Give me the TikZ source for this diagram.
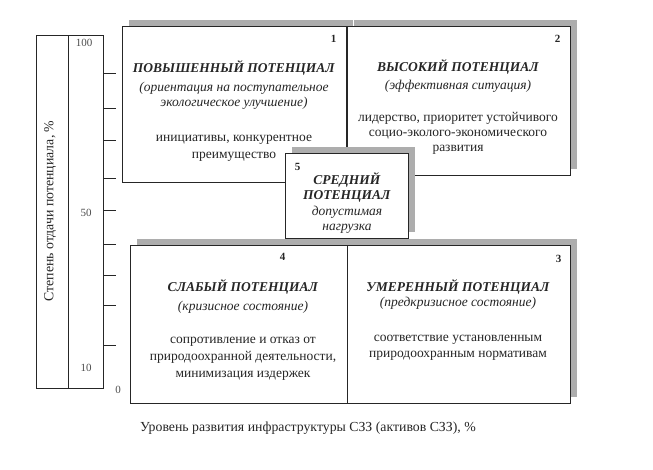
\documentclass[tikz,border=0pt]{standalone}
\usepackage{fontspec}
\setmainfont{Liberation Serif}
\usetikzlibrary{positioning,shadows}

\definecolor{shadowgray}{gray}{0.68}
\definecolor{inkgray}{gray}{0.15}

\tikzstyle{potbox} = [draw=inkgray, fill=white, line width=0.9pt, rectangle, inner sep=0pt, drop shadow={shadow xshift=7pt, shadow yshift=6pt, fill=shadowgray, opacity=1}]
\tikzstyle{headtext} = [align=center, inner sep=0pt, text=inkgray, font=\fontsize{13.5}{15.5}\selectfont]
\tikzstyle{bodytext} = [align=center, inner sep=0pt, text=inkgray, font=\fontsize{13.5}{17}\selectfont]
\tikzstyle{numlabel} = [inner sep=0pt, text=inkgray, font=\fontsize{11}{13}\selectfont\bfseries]
\tikzstyle{scalelabel} = [inner sep=0pt, text=black!70, font=\fontsize{11}{13}\selectfont]
\tikzstyle{axistext} = [inner sep=0pt, text=inkgray, font=\fontsize{13.8}{16}\selectfont]

\begin{document}
\begin{tikzpicture}[x=1pt, y=-1pt]
	\useasboundingbox (0,0) rectangle (653,469);

	% scale on the left
	\draw[inkgray, line width=0.6pt] (36,35) rectangle (103,388);
	\draw[inkgray, line width=0.6pt] (68,35) -- (68,388);
	\foreach \ty in {73,108,140,178,210,244,275,305,345}
		\draw[inkgray, line width=0.6pt] (103,\ty) -- (116,\ty);
	\node[scalelabel] (l100) at (84,43) {100};
	\node[scalelabel] (l50) at (86,213) {50};
	\node[scalelabel] (l10) at (86,368) {10};
	\node[scalelabel] (l0) at (118,390) {0};
	\node[axistext, rotate=90] (ylab) at (50,211) {Степень отдачи потенциала, \%};

	% lower boxes
	\node[potbox, minimum width=217, minimum height=158] (b4) at (238.5,324) {};
	\node[potbox, minimum width=223, minimum height=158] (b3) at (458.5,324) {};
	% upper boxes
	\node[potbox, minimum width=224, minimum height=156] (b1) at (234,104) {};
	\node[potbox, minimum width=223, minimum height=149] (b2) at (458.5,100.5) {};
	% middle box
	\node[potbox, minimum width=123, minimum height=85] (b5) at (346.5,195.5) {};

	\node[numlabel, below left=9pt and 10pt] at (b1.north east) {1};
	\node[numlabel, below left=9pt and 10pt] at (b2.north east) {2};
	\node[numlabel, below left=10pt and 9pt] at (b3.north east) {3};
	\node[numlabel, below left=9pt and 62pt] at (b4.north east) {4};
	\node[numlabel, below right=11pt and 10pt] at (b5.north west) {5};

	\node[headtext] (h1) at (234,85) {\textbf{\textit{ПОВЫШЕННЫЙ ПОТЕНЦИАЛ}}\\[3pt]\textit{(ориентация на поступательное}\\\textit{экологическое улучшение)}};
	\node[bodytext] (t1) at (234,148) {инициативы, конкурентное\\преимущество};

	\node[headtext] (h2) at (458,76) {\textbf{\textit{ВЫСОКИЙ ПОТЕНЦИАЛ}}\\[2pt]\textit{(эффективная ситуация)}};
	\node[bodytext, font=\fontsize{13.5}{15}\selectfont] (t2) at (458,133) {лидерство, приоритет устойчивого\\социо-эколого-экономического\\развития};

	\node[headtext] (h3) at (458,294.5) {\textbf{\textit{УМЕРЕННЫЙ ПОТЕНЦИАЛ}}\\\textit{(предкризисное состояние)}};
	\node[bodytext, font=\fontsize{13.5}{16}\selectfont] (t3) at (458,348) {соответствие установленным\\природоохранным нормативам};

	\node[headtext] (h4) at (243,296.5) {\textbf{\textit{СЛАБЫЙ ПОТЕНЦИАЛ}}\\[3pt]\textit{(кризисное состояние)}};
	\node[bodytext] (t4) at (243,359) {сопротивление и отказ от\\природоохранной деятельности,\\минимизация издержек};

	\node[headtext] (h5) at (347,203) {\textbf{\textit{СРЕДНИЙ}}\\\textbf{\textit{ПОТЕНЦИАЛ}}\\\textit{допустимая}\\\textit{нагрузка}};

	\node[axistext] (xlab) at (308,428) {Уровень развития инфраструктуры СЗЗ (активов СЗЗ), \%};
\end{tikzpicture}
\end{document}
